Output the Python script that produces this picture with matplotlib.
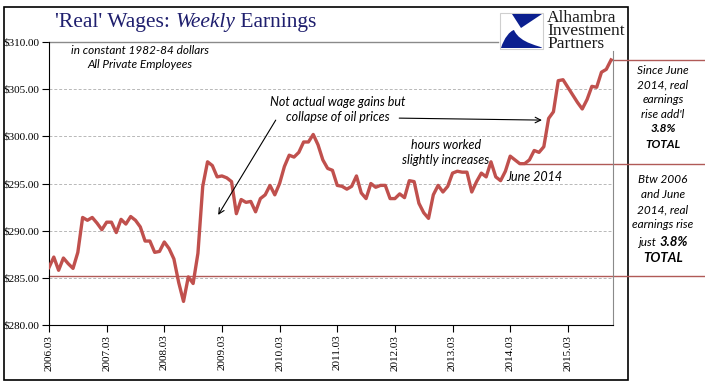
import matplotlib
matplotlib.use("Agg")
import matplotlib.pyplot as plt
from matplotlib.patches import Rectangle, Polygon, PathPatch
from matplotlib.path import Path

# Monthly real weekly earnings, Mar 2006 .. Dec 2015 (1982-84 dollars)
earnings = [
    286.1, 287.2, 285.8, 287.1, 286.5, 286.0, 287.7, 291.4, 291.1, 291.4, 290.8, 290.1,
    290.9, 290.9, 289.8, 291.2, 290.7, 291.5, 291.1, 290.4, 288.9, 288.9, 287.7, 287.8,
    288.8, 288.1, 287.0, 284.5, 282.5, 285.1, 284.4, 287.6, 294.7, 297.3, 296.9, 295.7,
    295.8, 295.6, 295.2, 291.8, 293.3, 293.0, 293.1, 292.0, 293.4, 293.8, 294.8, 293.8,
    295.0, 296.8, 298.0, 297.8, 298.3, 299.4, 299.4, 300.2, 299.1, 297.5, 296.6, 296.4,
    294.8, 294.7, 294.4, 294.7, 295.8, 294.0, 293.4, 295.0, 294.6, 294.8, 294.8, 293.4,
    293.4, 293.9, 293.5, 295.3, 295.2, 292.9, 291.9, 291.3, 293.8, 294.8, 294.1, 294.7,
    296.1, 296.3, 296.2, 296.2, 294.1, 295.2, 296.1, 295.7, 297.3, 295.7, 295.3, 296.3,
    297.9, 297.5, 297.1, 297.1, 297.5, 298.5, 298.3, 298.9, 301.9, 302.6, 305.9, 306.0,
    305.2, 304.4, 303.6, 302.9, 303.9, 305.3, 305.2, 306.8, 307.1, 308.1,
]
tick_labels = ["2006.03", "2007.03", "2008.03", "2009.03", "2010.03",
               "2011.03", "2012.03", "2013.03", "2014.03", "2015.03"]
yticks = [280, 285, 290, 295, 300, 305, 310]
start_level = 285.2      # early-2006 baseline
june14_idx = 99          # June 2014

LINE = "#C0504D"
REF = "#B05A57"
NAVY = "#1F1F6E"
SANS = ["Lato", "DejaVu Sans"]
SERIF = ["Liberation Serif", "DejaVu Serif"]

W, H = 705, 392
fig = plt.figure(figsize=(W / 100, H / 100), dpi=100)
ax = fig.add_axes([49 / W, 1 - 325 / H, 564 / W, 283 / H])

x = list(range(len(earnings)))
ax.plot(x, earnings, color=LINE, lw=2.4, solid_joinstyle="round", zorder=3)
ax.set_xlim(0, 117.4)
ax.set_ylim(280, 310)

ax.set_yticks(yticks)
ax.set_yticklabels([f"${v:.2f}" for v in yticks], family=SERIF, fontsize=8)
ax.set_xticks(x[::12])
ax.set_xticklabels(tick_labels, rotation=90, family=SERIF, fontsize=8)
ax.tick_params(axis="both", direction="out", length=5, width=0.8, pad=2, color="black")
for v in yticks[1:-1]:
    ax.axhline(v, color="#B8B8B8", lw=0.7, ls=(0, (3, 2)), zorder=1)

ax.spines["top"].set_visible(False)
ax.spines["left"].set_color("black")
ax.spines["bottom"].set_color("black")
ax.spines["right"].set_color("#8A8A8A")
ax.spines["right"].set_bounds(280, 309)
ax.axhline(310, xmin=0, xmax=(498 - 49) / 564, color="#8A8A8A", lw=1, clip_on=False)

# reference levels running out to the side panel
ax.plot([0, 150], [start_level] * 2, color=REF, lw=1, clip_on=False, zorder=2)
ax.plot([june14_idx, 150], [earnings[june14_idx]] * 2, color=REF, lw=1, clip_on=False, zorder=2)
ax.plot([x[-1], 150], [earnings[-1]] * 2, color=REF, lw=1, clip_on=False, zorder=2)

note = dict(family=SANS, style="italic", ha="center", va="center", linespacing=1.25,
            transform=ax.transAxes)
ax.text(0.161, 0.945, "in constant 1982-84 dollars\nAll Private Employees", fontsize=8.5, **note)
ax.text(0.512, 0.761, "Not actual wage gains but\ncollapse of oil prices", fontsize=9, **note)
ax.text(0.704, 0.610, "hours worked\nslightly increases", fontsize=9, **note)
ax.text(0.860, 0.523, "June 2014", fontsize=9, **note)
arrow = dict(arrowstyle="->", color="black", lw=0.8, shrinkA=0, shrinkB=0)
ax.annotate("", xy=(0.300, 0.389), xytext=(0.402, 0.724), xycoords="axes fraction",
            arrowprops=arrow)
ax.annotate("", xy=(0.874, 0.724), xytext=(0.621, 0.731), xycoords="axes fraction",
            arrowprops=arrow)

# outer frame
fig.add_artist(Rectangle((4 / W, 1 - 380 / H), 624 / W, 373 / H, transform=fig.transFigure,
                         fill=False, ec="black", lw=1.2, zorder=0))

fig.canvas.draw()
renderer = fig.canvas.get_renderer()


def runs(x0, y0, parts, **common):
    """Draw text pieces side by side, centred at x0 (fig px, y from bottom)."""
    arts = [fig.text(0, y0 / H, s, transform=fig.transFigure, va="center", **{**common, **kw})
            for s, kw in parts]
    widths = [a.get_window_extent(renderer).width for a in arts]
    cur = x0 - sum(widths) / 2
    for a, w in zip(arts, widths):
        a.set_x(cur / W)
        cur += w


runs(186, H - 22, [("'Real' Wages: ", {}), ("Weekly", {"style": "italic"}), (" Earnings", {})],
     family=SERIF, fontsize=15.5, color=NAVY)

side = dict(family=SANS, style="italic", fontsize=8.5)
bold = {"weight": "bold"}
for i, s in enumerate(["Since June", "2014, real", "earnings", "rise add'l"]):
    runs(663, H - (70 + 14.8 * i), [(s, {})], **side)
runs(663, H - 129, [("3.8%", bold)], **side)
runs(663, H - 144, [("TOTAL", bold)], **side)
for i, s in enumerate(["Btw 2006", "and June", "2014, real", "earnings rise"]):
    runs(663, H - (180 + 15 * i), [(s, {})], **side)
runs(663, H - 242, [("just ", {}), ("3.8%", {**bold, "fontsize": 9.5})], **side)
runs(663, H - 258, [("TOTAL", {**bold, "fontsize": 9.5})], **side)

# logo
fig.add_artist(Rectangle((500 / W, 1 - 49 / H), 43 / W, 36 / H, transform=fig.transFigure,
                         fc="white", ec="#CFCFCF", lw=0.8))
fig.add_artist(Polygon([(512 / W, 1 - 14 / H), (542 / W, 1 - 14 / H), (521 / W, 1 - 28 / H)],
                       closed=True, transform=fig.transFigure, fc="#0B1F8F", ec="none"))
sail = Path([(501, 48), (504, 38), (510, 31), (514, 30),
             (514, 30), (520, 44), (542, 46), (542, 48), (501, 48)],
            [Path.MOVETO, Path.CURVE4, Path.CURVE4, Path.CURVE4,
             Path.LINETO, Path.CURVE4, Path.CURVE4, Path.CURVE4, Path.CLOSEPOLY])
sail = Path([(px / W, 1 - py / H) for px, py in sail.vertices], sail.codes)
fig.add_artist(PathPatch(sail, transform=fig.transFigure, fc="#0B1F8F", ec="none"))
fig.text(547 / W, 1 - 31 / H, "Alhambra\nInvestment\nPartners", family=SERIF, fontsize=12.5,
         va="center", ha="left", linespacing=0.78, color="#1A1A1A")

fig.savefig("out.png", dpi=100)
